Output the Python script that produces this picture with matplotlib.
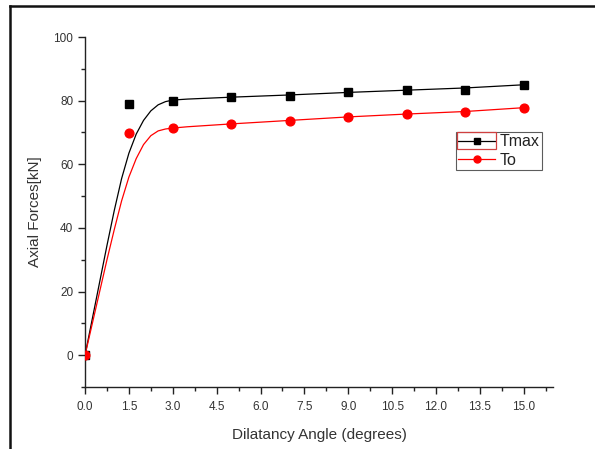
import matplotlib
matplotlib.use("Agg")
import matplotlib.pyplot as plt
from matplotlib.ticker import MultipleLocator, FormatStrFormatter
from matplotlib.lines import Line2D
from matplotlib.patches import Rectangle

plt.rcParams['font.family'] = ['Liberation Sans', 'DejaVu Sans']

# measured points
angle = [0, 1.5, 3, 5, 7, 9, 11, 13, 15]
tmax = [0, 78.8, 80.0, 81.1, 81.6, 82.8, 83.2, 83.5, 85.0]
to = [0, 69.9, 71.5, 72.7, 73.7, 74.9, 75.8, 76.4, 77.8]

# fitted curves
fit_x_tmax = [0, 0.25, 0.5, 0.75, 1.0, 1.25, 1.5, 1.75, 2.0, 2.25, 2.5, 2.75, 3.0,
              3.5, 4.0, 5.0, 7.0, 9.0, 11.0, 13.0, 15.0]
fit_tmax = [0, 11.5, 23, 34.5, 45.5, 55.5, 63.5, 69.5, 73.8, 76.8, 78.7, 79.7, 80.2,
            80.5, 80.7, 81.1, 81.8, 82.6, 83.3, 84.0, 85.0]
fit_x_to = [0, 0.25, 0.5, 0.75, 1.0, 1.25, 1.5, 1.75, 2.0, 2.25, 2.5, 2.75, 3.0,
            3.5, 4.0, 5.0, 7.0, 9.0, 11.0, 13.0, 15.0]
fit_to = [0, 10, 20, 30, 39.5, 48.5, 56, 61.8, 66.2, 69.0, 70.5, 71.1, 71.4,
          71.8, 72.1, 72.7, 73.8, 74.9, 75.8, 76.6, 77.8]

fig = plt.figure(figsize=(5.95, 4.49), dpi=100)
ax = fig.add_axes([0.1429, 0.138, 0.7866, 0.7795])

ax.plot(fit_x_tmax, fit_tmax, color='black', lw=0.9, zorder=2)
ax.plot(fit_x_to, fit_to, color='#ff0000', lw=0.9, zorder=2)
ax.plot(angle, tmax, ls='none', marker='s', ms=6.3, color='black', zorder=3)
ax.plot(angle, to, ls='none', marker='o', ms=6.3, color='#ff0000', zorder=4)

ax.set_xlim(0, 16)
ax.set_ylim(-10, 100)
ax.set_xticks([1.5 * i for i in range(11)])
ax.xaxis.set_minor_locator(MultipleLocator(0.75))
ax.xaxis.set_major_formatter(FormatStrFormatter('%.1f'))
ax.yaxis.set_major_locator(MultipleLocator(20))
ax.yaxis.set_minor_locator(MultipleLocator(10))

for s in ['top', 'right']:
    ax.spines[s].set_visible(False)
for s in ['left', 'bottom']:
    ax.spines[s].set_linewidth(1.0)
    ax.spines[s].set_color('#222222')

ax.tick_params(which='major', direction='out', length=5, width=1.0, labelsize=8.5,
               colors='#222222', labelcolor='#333333')
ax.tick_params(which='minor', direction='out', length=3, width=1.0, colors='#222222')
ax.tick_params(axis='x', pad=5)

ax.set_xlabel('Dilatancy Angle (degrees)', fontsize=11, color='#333333', labelpad=11)
ax.set_ylabel('Axial Forces[kN]', fontsize=11, color='#333333', labelpad=8)

handles = [Line2D([], [], color='black', lw=0.9, marker='s', ms=5),
           Line2D([], [], color='#ff0000', lw=0.9, marker='o', ms=5)]
leg = ax.legend(handles, ['Tmax', 'To'], loc='upper left', bbox_to_anchor=(0.7927, 0.7286),
                fontsize=11.5, frameon=True, fancybox=False, handlelength=2.3,
                handletextpad=0.3, borderpad=0.15, labelspacing=0.2, borderaxespad=0)
leg.get_frame().set_edgecolor('#333333')
leg.get_frame().set_linewidth(0.8)
for t in leg.get_texts():
    t.set_color('#222222')

# selection highlight box around Tmax legend entry
fig.patches.append(Rectangle((457 / 595, 1 - 149 / 449), 39 / 595, 17 / 449,
                             transform=fig.transFigure, fill=False,
                             edgecolor='#d04040', lw=0.9))

# outer frame of the screenshot (top and left)
fig.add_artist(Line2D([10 / 595, 1], [1 - 6 / 449, 1 - 6 / 449], transform=fig.transFigure,
                      color='#111111', lw=1.8))
fig.add_artist(Line2D([10 / 595, 10 / 595], [0, 1 - 6 / 449], transform=fig.transFigure,
                      color='#111111', lw=1.8))

fig.savefig('out.png', dpi=100)
